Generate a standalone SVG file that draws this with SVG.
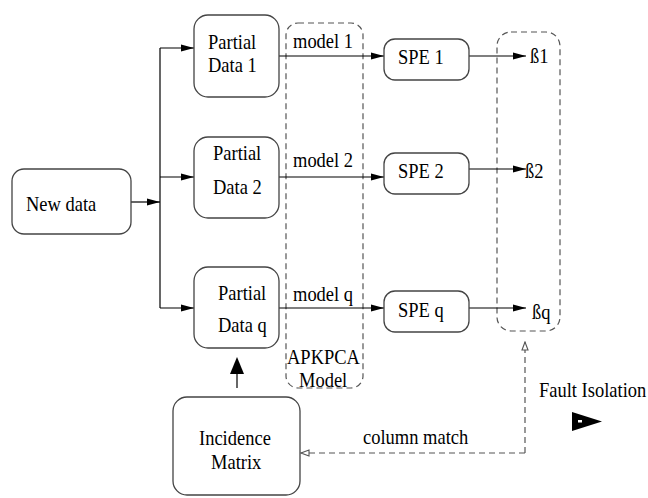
<svg xmlns="http://www.w3.org/2000/svg" width="648" height="498" viewBox="0 0 648 498">
  <style>
    .box { fill: #fff; stroke: #444; stroke-width: 1.3; }
    .grp { fill: none; stroke: #555; stroke-width: 1.2; stroke-dasharray: 6 4; }
    .wire { fill: none; stroke: #000; stroke-width: 1.2; }
    .dwire { fill: none; stroke: #555; stroke-width: 1.2; stroke-dasharray: 6 4; }
    text { font-family: "Liberation Serif", "Times New Roman", "DejaVu Serif", serif; font-size: 18.5px; fill: #000; }
  </style>
  <defs>
    <marker id="arrow" markerWidth="13" markerHeight="8" refX="13" refY="4" orient="auto" markerUnits="userSpaceOnUse">
      <path d="M0,0.5 L13,4 L0,7.5 z" fill="#000"/>
    </marker>
    <marker id="open" markerWidth="10" markerHeight="8" refX="9" refY="4" orient="auto" markerUnits="userSpaceOnUse">
      <path d="M1,1 L9,4 L1,7 z" fill="#fff" stroke="#555" stroke-width="1.1"/>
    </marker>
  </defs>

  <!-- dashed grouping frames -->
  <g id="apkpca-model">
    <rect class="grp" x="286" y="23" width="77" height="365" rx="12"/>
    <text transform="translate(287 364) scale(1 1.12)">APKPCA</text>
    <text transform="translate(299 387) scale(1 1.12)">Model</text>
  </g>
  <g id="beta-group">
    <rect class="grp" x="497" y="32" width="63" height="299" rx="14"/>
  </g>

  <!-- connectors -->
  <g id="connectors">
    <path class="wire" d="M131,202 H160" marker-end="url(#arrow)"/>
    <path class="wire" d="M160,48 V308"/>
    <path class="wire" d="M160,48 H194" marker-end="url(#arrow)"/>
    <path class="wire" d="M160,177 H194" marker-end="url(#arrow)"/>
    <path class="wire" d="M160,308 H194" marker-end="url(#arrow)"/>

    <path class="wire" d="M279,56 H384" marker-end="url(#arrow)"/>
    <path class="wire" d="M279,177 H384" marker-end="url(#arrow)"/>
    <path class="wire" d="M279,308 H384" marker-end="url(#arrow)"/>

    <path class="wire" d="M469,56 H526" marker-end="url(#arrow)"/>
    <path class="wire" d="M469,169 H526" marker-end="url(#arrow)"/>
    <path class="wire" d="M469,308 H526" marker-end="url(#arrow)"/>

    <path class="wire" d="M237,388 V373"/>
    <path d="M237,357 L244,374 L230,374 z" fill="#000"/>

    <path class="dwire" d="M525,453 V342" marker-end="url(#open)"/>
    <path class="dwire" d="M525,453 H301" marker-end="url(#open)"/>
  </g>

  <g id="new-data">
    <rect class="box" x="12" y="169" width="119" height="65" rx="12"/>
    <text transform="translate(26 211) scale(1 1.15)">New data</text>
  </g>

  <g id="partial-data-1">
    <rect class="box" x="194" y="15" width="85" height="82" rx="14"/>
    <text transform="translate(208 49) scale(1 1.15)">Partial</text>
    <text transform="translate(208 72) scale(1 1.15)">Data 1</text>
  </g>
  <g id="partial-data-2">
    <rect class="box" x="194" y="137" width="85" height="81" rx="14"/>
    <text transform="translate(213 160) scale(1 1.15)">Partial</text>
    <text transform="translate(213 194) scale(1 1.15)">Data 2</text>
  </g>
  <g id="partial-data-q">
    <rect class="box" x="194" y="267" width="85" height="81" rx="14"/>
    <text transform="translate(218 300) scale(1 1.15)">Partial</text>
    <text transform="translate(218 332) scale(1 1.15)">Data q</text>
  </g>

  <g id="model-labels">
    <text transform="translate(293 48) scale(1 1.15)">model 1</text>
    <text transform="translate(293 167) scale(1 1.15)">model 2</text>
    <text transform="translate(293 301) scale(1 1.15)">model q</text>
  </g>

  <g id="spe-1">
    <rect class="box" x="384" y="39" width="85" height="41" rx="11"/>
    <text transform="translate(398 64) scale(1 1.15)">SPE 1</text>
  </g>
  <g id="spe-2">
    <rect class="box" x="384" y="153" width="85" height="41" rx="11"/>
    <text transform="translate(398 178) scale(1 1.15)">SPE 2</text>
  </g>
  <g id="spe-q">
    <rect class="box" x="384" y="291" width="85" height="41" rx="11"/>
    <text transform="translate(398 317) scale(1 1.15)">SPE q</text>
  </g>

  <g id="betas">
    <text transform="translate(530 63) scale(1 1.15)">ß1</text>
    <text transform="translate(525 178) scale(1 1.15)">ß2</text>
    <text transform="translate(532 319) scale(1 1.15)">ßq</text>
  </g>

  <g id="incidence-matrix">
    <rect class="box" x="173" y="397" width="127" height="98" rx="14"/>
    <text transform="translate(199 445) scale(1 1.15)">Incidence</text>
    <text transform="translate(211 469) scale(1 1.15)">Matrix</text>
  </g>

  <g id="column-match">
    <text transform="translate(363 444) scale(1 1.15)">column match</text>
  </g>

  <g id="fault-isolation">
    <text transform="translate(539 397) scale(1 1.15)">Fault Isolation</text>
    <path d="M572,412 L602,421.5 L572,431 z" fill="#000"/>
    <rect x="578" y="420" width="4" height="2.5" fill="#fff"/>
  </g>
</svg>
